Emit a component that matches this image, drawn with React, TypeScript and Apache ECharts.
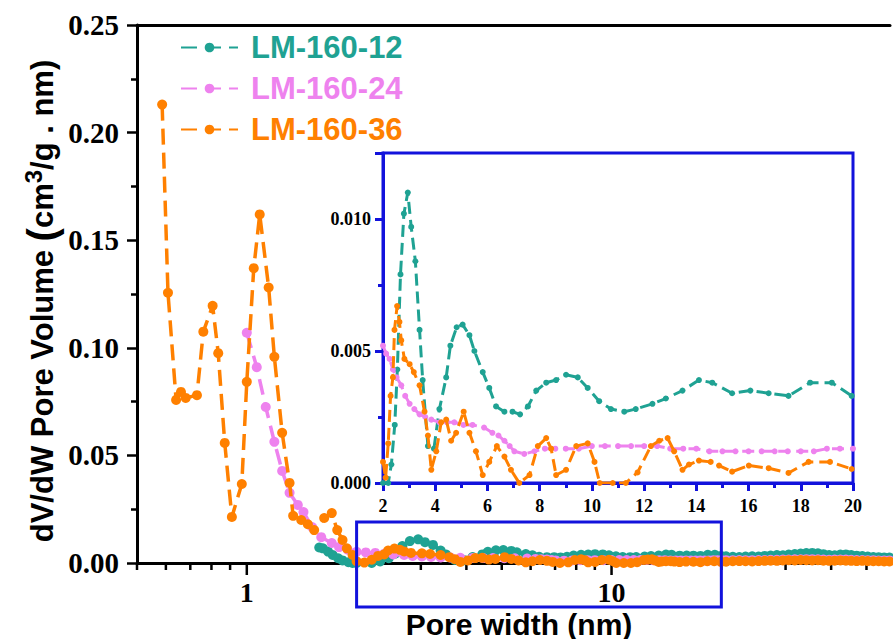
import React, { useEffect, useRef } from 'react';
import * as echarts from 'echarts';

const seriesNames = ['LM-160-12', 'LM-160-24', 'LM-160-36'];
const seriesColors = ['#1fa293', '#ee82ee', '#ff8000'];

// LM-160-12 : below 2 nm, 2-20 nm (inset range), above 20 nm
const tealLow = [
  [1.58, 0.0072], [1.616, 0.0068], [1.67, 0.0053], [1.72, 0.0037], [1.78, 0.0022],
  [1.83, 0.0012], [1.9, 0.0004], [1.95, 0.0]
];
const tealMid = [
  [2.0, 0.0], [2.2, 0.0], [2.32, 0.0007], [2.45, 0.0022], [2.55, 0.0043], [2.67, 0.0079],
  [2.8, 0.0102], [2.95, 0.011], [3.08, 0.0097], [3.24, 0.0084], [3.4, 0.0058], [3.52, 0.0039],
  [3.72, 0.0014], [3.95, 0.0013], [4.16, 0.0028], [4.42, 0.004], [4.58, 0.0052], [4.82, 0.0059],
  [5.05, 0.006], [5.31, 0.0056], [5.5, 0.005], [5.82, 0.0042], [6.07, 0.0036], [6.33, 0.0029],
  [6.65, 0.0027], [6.96, 0.0027], [7.25, 0.0026], [7.55, 0.0029], [7.87, 0.0035], [8.25, 0.0038],
  [8.63, 0.0039], [9.01, 0.0041], [9.46, 0.004], [9.84, 0.0036], [10.28, 0.0031], [10.73, 0.0028],
  [11.24, 0.0027], [11.68, 0.0028], [12.32, 0.003], [12.83, 0.0032], [13.47, 0.0035], [14.1, 0.0039],
  [14.61, 0.0038], [15.37, 0.0034], [16.07, 0.0035], [16.77, 0.0034], [17.53, 0.0033], [18.36, 0.0038],
  [19.19, 0.0038], [19.95, 0.0033]
];
const tealHigh = [
  [20.6, 0.0031], [21.5, 0.0029], [22.4, 0.0028], [23.3, 0.003], [24.3, 0.0031], [25.3, 0.003],
  [26.3, 0.0033], [27.3, 0.0035], [28.4, 0.0037], [29.5, 0.0036], [30.6, 0.0039], [31.8, 0.0042],
  [33.0, 0.0044], [34.2, 0.0046], [35.5, 0.0047], [36.8, 0.0045], [38.1, 0.0041], [39.5, 0.0037],
  [40.9, 0.0036], [42.4, 0.0039], [43.9, 0.004], [45.4, 0.0037], [47.0, 0.0034], [48.7, 0.0032],
  [50.4, 0.003], [52.2, 0.0028], [54.0, 0.0027], [55.9, 0.0026], [57.8, 0.0025]
];

// LM-160-24
const pinkLow = [
  [1.0, 0.107], [1.065, 0.091], [1.127, 0.0725], [1.19, 0.0563], [1.25, 0.0428], [1.31, 0.0326],
  [1.38, 0.027], [1.43, 0.0237], [1.51, 0.0167], [1.6, 0.012], [1.71, 0.0093], [1.79, 0.0074],
  [1.89, 0.0062]
];
const pinkMid = [
  [2.0, 0.0052], [2.12, 0.0049], [2.25, 0.0047], [2.38, 0.0043], [2.52, 0.004], [2.7, 0.0037],
  [2.85, 0.0033], [3.02, 0.003], [3.2, 0.0028], [3.4, 0.0026], [3.62, 0.0025], [3.85, 0.0024],
  [4.16, 0.0023], [4.45, 0.0023], [4.73, 0.0023], [5.08, 0.0022], [5.43, 0.0022], [5.87, 0.0021],
  [6.19, 0.0019], [6.42, 0.0018], [6.65, 0.0016], [6.85, 0.0014], [7.03, 0.0012], [7.41, 0.0011],
  [7.8, 0.0012], [8.2, 0.0013], [8.6, 0.0013], [9.0, 0.0013], [9.5, 0.0013], [10.0, 0.0014],
  [10.5, 0.0014], [11.0, 0.0014], [11.5, 0.0014], [12.0, 0.0014], [12.5, 0.0014], [13.0, 0.0013],
  [13.5, 0.0013], [14.0, 0.0013], [14.5, 0.0012], [15.0, 0.0012], [15.5, 0.0012], [16.0, 0.0012],
  [16.5, 0.0012], [17.0, 0.0012], [17.5, 0.0012], [18.0, 0.0012], [18.5, 0.0012], [19.0, 0.0013],
  [19.5, 0.0013], [20.0, 0.0013]
];
const pinkHigh = [
  [20.6, 0.0013], [21.5, 0.0013], [22.4, 0.0014], [23.3, 0.0013], [24.3, 0.0013], [25.3, 0.0014],
  [26.3, 0.0014], [27.3, 0.0015], [28.4, 0.0015], [29.5, 0.0016], [30.6, 0.0016], [31.8, 0.0017],
  [33.0, 0.0017], [34.2, 0.0018], [35.5, 0.0018], [36.8, 0.0017], [38.1, 0.0016], [39.5, 0.0015],
  [40.9, 0.0016], [42.4, 0.0016], [43.9, 0.0016], [45.4, 0.0015], [47.0, 0.0014], [48.7, 0.0014],
  [50.4, 0.0013], [52.2, 0.0013], [54.0, 0.0012], [55.9, 0.0012], [57.8, 0.0012]
];

// LM-160-36
const orangeLow = [
  [0.586, 0.213], [0.608, 0.1256], [0.64, 0.0758], [0.66, 0.0795], [0.68, 0.0767], [0.73, 0.078],
  [0.76, 0.1075], [0.806, 0.1195], [0.835, 0.0975], [0.87, 0.0558], [0.91, 0.0214], [0.969, 0.0367],
  [1.0, 0.0842], [1.045, 0.137], [1.085, 0.162], [1.148, 0.128], [1.19, 0.0958], [1.25, 0.0605],
  [1.31, 0.0372], [1.34, 0.0219], [1.41, 0.02], [1.47, 0.018], [1.53, 0.0153], [1.63, 0.0209],
  [1.71, 0.0232], [1.77, 0.0153], [1.83, 0.0107], [1.88, 0.0068], [1.95, 0.0037]
];
const orangeMid = [
  [2.0, 0.0008], [2.1, 0.0002], [2.2, 0.0015], [2.29, 0.0033], [2.38, 0.004], [2.44, 0.0058],
  [2.54, 0.0067], [2.63, 0.0061], [2.7, 0.0054], [2.82, 0.0047], [3.02, 0.0045], [3.18, 0.0042],
  [3.4, 0.0037], [3.59, 0.0027], [3.72, 0.0018], [3.85, 0.0005], [4.04, 0.0012], [4.23, 0.0023],
  [4.42, 0.0024], [4.61, 0.0016], [4.8, 0.0019], [5.09, 0.0027], [5.31, 0.0019], [5.56, 0.0012],
  [5.82, 0.0003], [6.07, 0.0008], [6.36, 0.0014], [6.65, 0.001], [6.9, 0.0005], [7.22, 0.0],
  [7.61, 0.0003], [7.93, 0.0014], [8.25, 0.0017], [8.44, 0.0013], [8.63, 0.0003], [9.01, 0.0005],
  [9.4, 0.0014], [9.84, 0.0015], [10.1, 0.0008], [10.3, 0.0], [10.8, 0.0], [11.3, 0.0],
  [11.75, 0.0004], [12.26, 0.0014], [12.58, 0.0016], [12.9, 0.0017], [13.15, 0.0012], [13.47, 0.0005],
  [13.72, 0.0007], [14.1, 0.00085], [14.55, 0.0008], [14.87, 0.00066], [15.37, 0.00043], [16.01, 0.00066],
  [16.77, 0.00056], [17.53, 0.00038], [18.3, 0.0008], [19.12, 0.0008], [19.95, 0.00053]
];
const orangeHigh = [
  [20.6, 0.0006], [21.5, 0.0008], [22.4, 0.0009], [23.3, 0.0008], [24.3, 0.0007], [25.3, 0.0009],
  [26.3, 0.001], [27.3, 0.0011], [28.4, 0.001], [29.5, 0.0012], [30.6, 0.0013], [31.8, 0.0012],
  [33.0, 0.0014], [34.2, 0.0013], [35.5, 0.0012], [36.8, 0.0013], [38.1, 0.0011], [39.5, 0.001],
  [40.9, 0.0011], [42.4, 0.0012], [43.9, 0.0011], [45.4, 0.001], [47.0, 0.0009], [48.7, 0.001],
  [50.4, 0.0009], [52.2, 0.0008], [54.0, 0.0008], [55.9, 0.0007], [57.8, 0.0007]
];

// Main x-axis tick values (log axis)
const mainMajorTicks = [1, 10];
const mainMinorTicks = [0.5, 0.6, 0.7, 0.8, 0.9, 2, 3, 4, 5, 6, 7, 8, 9, 20, 30, 40, 50];
// zoomed region shown in the inset
const zoomRange = [2, 20];
const zoomTop = 0.019;

const BLUE = '#1212dc';
const SERIF = '"Liberation Serif", "Times New Roman", serif';
const SANS = '"Liberation Sans", Arial, sans-serif';

export default function App() {
  const ref = useRef<HTMLDivElement>(null);
  useEffect(() => {
    if (!ref.current) return;
    const chart = echarts.init(ref.current, undefined, { renderer: 'svg' });
    const mainData = [
      [...tealLow, ...tealMid, ...tealHigh],
      [...pinkLow, ...pinkMid, ...pinkHigh],
      [...orangeLow, ...orangeMid, ...orangeHigh],
    ];
    const insetData = [tealMid, pinkMid, orangeMid];

    const mainSeries = seriesNames.map((name, i) => ({
      name,
      type: 'line',
      xAxisIndex: 0,
      yAxisIndex: 0,
      data: mainData[i],
      symbol: 'circle',
      symbolSize: 10,
      showAllSymbol: true,
      itemStyle: { color: seriesColors[i] },
      lineStyle: { color: seriesColors[i], width: 3.5, type: [16, 8] },
      z: 3 + i,
    }));
    const insetSeries = seriesNames.map((name, i) => ({
      name,
      type: 'line',
      xAxisIndex: 2,
      yAxisIndex: 1,
      data: insetData[i],
      symbol: 'circle',
      symbolSize: 6,
      showAllSymbol: true,
      itemStyle: { color: seriesColors[i] },
      lineStyle: { color: seriesColors[i], width: 3, type: [12, 6] },
      z: 3 + i,
    }));

    const majorSet = new Set(mainMajorTicks);
    const tickSeries = {
      type: 'custom',
      xAxisIndex: 0,
      yAxisIndex: 0,
      clip: false,
      silent: true,
      data: [...mainMajorTicks, ...mainMinorTicks].map((v) => [v, 0]),
      renderItem: (params: any, api: any) => {
        const v = api.value(0);
        const p = api.coord([v, 0]);
        const len = majorSet.has(v) ? 12 : 7;
        return {
          type: 'line',
          shape: { x1: p[0], y1: p[1], x2: p[0], y2: p[1] + len },
          style: { stroke: '#000', lineWidth: 2.5 },
        };
      },
      z: 1,
    };

    const zoomBoxSeries = {
      type: 'custom',
      xAxisIndex: 0,
      yAxisIndex: 0,
      clip: false,
      silent: true,
      data: [[zoomRange[0], zoomRange[1], zoomTop]],
      renderItem: (params: any, api: any) => {
        const tl = api.coord([api.value(0), api.value(2)]);
        const br = api.coord([api.value(1), 0]);
        return {
          type: 'rect',
          shape: { x: tl[0], y: tl[1], width: br[0] - tl[0], height: br[1] - tl[1] + 44 },
          style: { stroke: BLUE, lineWidth: 3, fill: 'none' },
        };
      },
      z: 10,
    };

    const isPow10 = (v: number) => Math.abs(Math.log10(v) - Math.round(Math.log10(v))) < 1e-6;

    chart.setOption({
      animation: false,
      backgroundColor: '#fff',
      grid: [
        { left: 137, top: 25, right: 0, bottom: 76, show: false },
        { left: 383, top: 153, width: 470, height: 330, show: true, borderColor: BLUE, borderWidth: 3, backgroundColor: 'transparent' },
      ],
      legend: {
        orient: 'vertical',
        left: 180,
        top: 32,
        padding: 0,
        itemWidth: 57,
        itemHeight: 12,
        itemGap: 10,
        data: seriesNames.map((n, i) => ({ name: n, textStyle: { color: seriesColors[i] } })),
        textStyle: { fontFamily: SANS, fontWeight: 'bold', fontSize: 31, lineHeight: 31, padding: [0, 0, 0, 8] },
      },
      xAxis: [
        {
          type: 'log',
          logBase: 10,
          gridIndex: 0,
          min: 0.5,
          max: 58,
          axisLine: { lineStyle: { color: '#000', width: 3 } },
          axisTick: { show: false },
          splitLine: { show: false },
          axisLabel: {
            formatter: (v: number) => (isPow10(v) ? String(Math.round(v)) : ''),
            fontFamily: SERIF,
            fontWeight: 'bold',
            fontSize: 28,
            lineHeight: 26,
            color: '#000',
            margin: 16,
          },
        },
        {
          type: 'value',
          gridIndex: 0,
          position: 'top',
          min: 0,
          max: 1,
          axisLine: { show: true, lineStyle: { color: '#000', width: 3 } },
          axisTick: { show: false },
          axisLabel: { show: false },
          splitLine: { show: false },
        },
        {
          type: 'value',
          gridIndex: 1,
          min: 2,
          max: 20,
          interval: 2,
          axisLine: { lineStyle: { color: BLUE, width: 3 } },
          axisTick: { show: true, length: 8, lineStyle: { color: BLUE, width: 3 } },
          minorTick: { show: true, splitNumber: 2, length: 5, lineStyle: { color: BLUE, width: 3 } },
          splitLine: { show: false },
          axisLabel: { fontFamily: SERIF, fontWeight: 'bold', fontSize: 18, color: '#000', margin: 14 },
        },
      ],
      yAxis: [
        {
          type: 'value',
          gridIndex: 0,
          min: 0,
          max: 0.25,
          interval: 0.05,
          axisLine: { show: true, lineStyle: { color: '#000', width: 3 } },
          axisTick: { show: true, length: 10, lineStyle: { color: '#000', width: 2.5 } },
          minorTick: { show: true, splitNumber: 2, length: 6, lineStyle: { color: '#000', width: 2.5 } },
          splitLine: { show: false },
          axisLabel: {
            formatter: (v: number) => v.toFixed(2),
            fontFamily: SERIF,
            fontWeight: 'bold',
            fontSize: 29,
            color: '#000',
            margin: 18,
          },
        },
        {
          type: 'value',
          gridIndex: 1,
          min: 0,
          max: 0.0125,
          interval: 0.005,
          axisLine: { show: true, lineStyle: { color: BLUE, width: 3 } },
          axisTick: { show: true, length: 8, lineStyle: { color: BLUE, width: 3 } },
          minorTick: { show: true, splitNumber: 2, length: 5, lineStyle: { color: BLUE, width: 3 } },
          splitLine: { show: false },
          axisLabel: {
            formatter: (v: number) => (v > 0.0111 ? '' : v.toFixed(3)),
            fontFamily: SERIF,
            fontWeight: 'bold',
            fontSize: 18,
            color: '#000',
            margin: 12,
          },
        },
      ],
      graphic: [
        {
          type: 'text',
          x: 519,
          y: 624,
          style: {
            text: 'Pore width (nm)',
            font: `bold 30px ${SANS}`,
            fill: '#000',
            align: 'center',
            verticalAlign: 'middle',
          },
        },
        {
          type: 'text',
          x: 42,
          y: 301,
          rotation: Math.PI / 2,
          style: {
            text: '{a|dV/dW Pore Volume }{p|(}{a|cm}{s|3}{a|/g . nm)}',
            align: 'center',
            verticalAlign: 'middle',
            fill: '#000',
            rich: {
              a: { fontFamily: SANS, fontWeight: 'bold', fontSize: 31, fill: '#000' },
              p: { fontFamily: SANS, fontWeight: 'bold', fontSize: 40, fill: '#000' },
              s: { fontFamily: SANS, fontWeight: 'bold', fontSize: 24, fill: '#000', padding: [0, 0, 18, 0] },
            },
          },
        },
      ],
      series: [...mainSeries, ...insetSeries, tickSeries, zoomBoxSeries],
    });
    return () => chart.dispose();
  }, []);
  return <div ref={ref} style={{ position: 'fixed', left: 0, top: 0, width: 893, height: 639 }} />;
}
